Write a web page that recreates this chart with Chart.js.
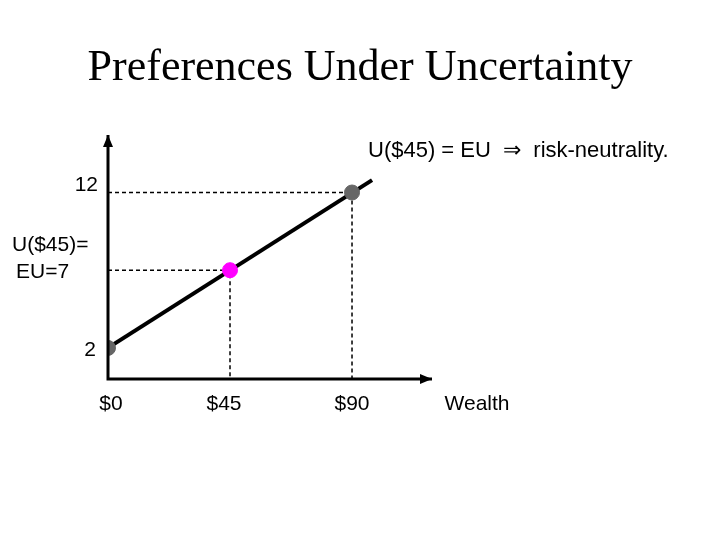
<!DOCTYPE html>
<html><head><meta charset="utf-8">
<script src="https://cdn.jsdelivr.net/npm/chart.js@4"></script>
<style>html,body{margin:0;background:#fff}#w{width:720px;height:540px}</style>
</head><body><div id="w"><canvas id="c"></canvas></div>
<script>
const wealth=[0,45,90];
const utility=[2,7,12];
const lineEnd={x:97.4,y:12.8};
const xTickLabels=["$0","$45","$90"];
const yTickLabels=["2","12"];
const pointColors=["#666666","#ff00ff","#666666"];

const pts=wealth.map((w,i)=>({x:w,y:utility[i]}));
const dashSets=[[{x:0,y:utility[2]},{x:wealth[2],y:utility[2]},{x:wealth[2],y:0}],
                [{x:0,y:utility[1]},{x:wealth[1],y:utility[1]},{x:wealth[1],y:0}]];
const deco={id:'deco',afterDraw(ch){
  const c=ch.ctx,x=ch.scales.x,y=ch.scales.y,a=ch.chartArea;
  c.save();c.strokeStyle='#000';c.fillStyle='#000';c.lineWidth=3;
  c.beginPath();c.moveTo(a.left,a.top);c.lineTo(a.left,a.bottom);c.lineTo(a.right,a.bottom);c.stroke();
  c.beginPath();c.moveTo(a.left-5,a.top+12);c.lineTo(a.left,a.top);c.lineTo(a.left+5,a.top+12);c.fill();
  c.beginPath();c.moveTo(a.right-12,a.bottom-5);c.lineTo(a.right,a.bottom);c.lineTo(a.right-12,a.bottom+5);c.fill();
  c.font='44px "Liberation Serif"';c.textAlign='center';c.textBaseline='middle';
  c.fillText('Preferences Under Uncertainty',360,68);
  c.font='21px "Liberation Sans"';
  xTickLabels.forEach((t,i)=>c.fillText(t,x.getPixelForValue(wealth[i])+(i==1?-6:0)+(i==0?3:0),404));
  c.fillText('Wealth',477,404);
  c.textAlign='right';
  c.fillText(yTickLabels[0],96,y.getPixelForValue(utility[0])+2);
  c.fillText(yTickLabels[1],98,y.getPixelForValue(utility[2])-7);
  c.textAlign='left';
  c.fillText('U($45)=',12,245);c.fillText('EU=7',16,272);
  c.font='22px "Liberation Sans"';
  c.fillText('U($45) = EU  \u21D2  risk-neutrality.',368,151);
  c.restore();}};
new Chart(document.getElementById('c'),{type:'scatter',
 data:{datasets:[
  ...dashSets.map(d=>({data:d,order:2,showLine:true,borderColor:'#000',borderWidth:1.5,borderDash:[4,3],pointRadius:0})),
  {data:[pts[0],lineEnd],order:1,showLine:true,borderColor:'#000',borderWidth:4,pointRadius:0},
  {data:pts,order:0,pointRadius:7.5,pointBackgroundColor:pointColors,pointBorderColor:pointColors}]},
 options:{responsive:true,maintainAspectRatio:false,animation:false,
  layout:{padding:{left:108,right:288,top:135,bottom:161}},
  plugins:{legend:{display:false},tooltip:{enabled:false}},
  scales:{x:{type:'linear',min:0,max:119.5,display:false},y:{min:0,max:15.7,display:false}}},
 plugins:[deco]});
</script></body></html>
